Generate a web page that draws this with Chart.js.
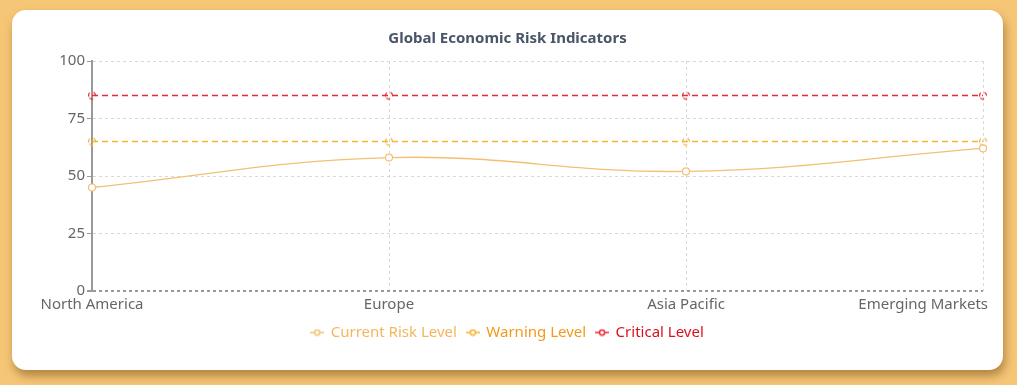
<!DOCTYPE html>
<html>
<head>
<meta charset="utf-8">
<script src="https://cdn.jsdelivr.net/npm/chart.js@4"></script>
<style>
    html, body { margin: 0; padding: 0; }
    body { width: 1017px; height: 385px; background: #F6C677; position: relative; overflow: hidden; }
    .card {
        position: absolute; left: 12px; top: 10px; width: 991px; height: 360px;
        background: #fff; border-radius: 14px;
        box-shadow: 2px 6px 10px rgba( 120, 80, 20, 0.55 );
        overflow: hidden;
    }
    canvas { display: block; }
</style>
</head>
<body>
<div class="card"><canvas id="risk" width="991" height="360"></canvas></div>
<script>
const regions = [ 'North America', 'Europe', 'Asia Pacific', 'Emerging Markets' ];
const currentRisk = [ 45, 58, 52, 62 ];
const warningLevel = [ 65, 65, 65, 65 ];
const criticalLevel = [ 85, 85, 85, 85 ];
const yTicks = [ 0, 25, 50, 75, 100 ];

const Colors = {
    current: '#F3C073',
    currentText: '#F4B55C',
    warning: '#F7B531',
    warningText: '#F29A1A',
    critical: '#EA2A33',
    criticalText: '#D9131E',
    label: '#666666',
    title: '#4A5568',
    grid: '#D9D9D9',
    axis: '#999999'
};
const FONT = "'Noto Sans', 'Open Sans', sans-serif";

// small legend icon: line with a hollow circle
function legendIcon( color ) {
    const c = document.createElement( 'canvas' );
    c.width = 14; c.height = 8;
    const x = c.getContext( '2d' );
    x.strokeStyle = color; x.lineWidth = 1.5;
    x.beginPath(); x.moveTo( 0, 4 ); x.lineTo( 14, 4 ); x.stroke();
    x.fillStyle = '#fff';
    x.beginPath(); x.arc( 7, 4, 2.6, 0, Math.PI * 2 ); x.fill(); x.stroke();
    return c;
}
// dashed hollow circle for the threshold points
function dashedPoint( color ) {
    const c = document.createElement( 'canvas' );
    c.width = 10; c.height = 10;
    const x = c.getContext( '2d' );
    x.strokeStyle = color; x.lineWidth = 1.2;
    x.setLineDash( [ 4, 4 ] );
    x.beginPath(); x.arc( 5, 5, 3.5, Math.PI * 0.9, Math.PI * 2.9 ); x.stroke();
    return c;
}

const xLabels = {
    id: 'xLabels',
    afterDraw( chart ) {
        const { ctx, scales: { x }, chartArea } = chart;
        ctx.save();
        ctx.font = '15px ' + FONT;
        ctx.fillStyle = Colors.label;
        ctx.textBaseline = 'top';
        ctx.textAlign = 'center';
        regions.forEach( ( name, i ) => {
            const w = ctx.measureText( name ).width;
            let px = x.getPixelForTick( i );
            const maxX = chart.width - 15 - w / 2;
            if ( px > maxX ) px = maxX;
            ctx.fillText( name, px, chartArea.bottom + 6 );
        } );
        ctx.restore();
    }
};

const legendColors = [ [ Colors.current, Colors.currentText ], [ Colors.warning, Colors.warningText ], [ Colors.critical, Colors.criticalText ] ];

new Chart( document.getElementById( 'risk' ).getContext( '2d' ), {
    type: 'line',
    data: {
        labels: regions,
        datasets: [ {
            label: 'Current Risk Level',
            data: currentRisk,
            borderColor: Colors.current,
            borderWidth: 1.3,
            backgroundColor: '#fff',
            pointBackgroundColor: '#fff',
            pointBorderColor: Colors.current,
            pointRadius: 3.5,
            pointBorderWidth: 1.2,
            tension: 0.4
        }, {
            label: 'Warning Level',
            data: warningLevel,
            borderColor: Colors.warning,
            borderWidth: 1.4,
            borderDash: [ 6, 4 ],
            pointStyle: dashedPoint( Colors.warning ),
            tension: 0
        }, {
            label: 'Critical Level',
            data: criticalLevel,
            borderColor: Colors.critical,
            borderWidth: 1.4,
            borderDash: [ 6, 4 ],
            pointStyle: dashedPoint( Colors.critical ),
            tension: 0
        } ]
    },
    options: {
        responsive: false,
        animation: false,
        layout: { padding: { left: 0, right: 0, top: 0, bottom: 20 } },
        scales: {
            x: {
                offset: false,
                ticks: { display: false },
                grid: { color: Colors.grid, lineWidth: 1, drawTicks: false },
                border: { display: false, dash: [ 3, 3 ] },
                afterFit( scale ) { scale.height = 24; }
            },
            y: {
                min: 0,
                max: 100,
                afterBuildTicks( scale ) { scale.ticks = yTicks.map( v => ( { value: v } ) ); },
                ticks: { color: Colors.label, font: { family: FONT, size: 15 }, padding: 2 },
                grid: {
                    color: c => c.tick && c.tick.value === 0 ? Colors.axis : Colors.grid,
                    lineWidth: c => c.tick && c.tick.value === 0 ? 2 : 1,
                    tickColor: Colors.axis,
                    tickLength: 5
                },
                border: { display: true, color: Colors.axis, width: 2, dash: [ 3, 3 ] },
                afterFit( scale ) { scale.width = 80; }
            },
            // empty right-hand spacer so the title and legend stay centred on the card
            spacer: {
                type: 'linear',
                position: 'right',
                display: true,
                ticks: { display: false },
                grid: { display: false, drawOnChartArea: false },
                border: { display: false },
                afterFit( scale ) { scale.width = 20; }
            }
        },
        plugins: {
            title: {
                display: true,
                text: 'Global Economic Risk Indicators',
                color: Colors.title,
                font: { family: FONT, size: 15, weight: 'bold' },
                padding: { top: 20, bottom: 13 }
            },
            legend: {
                position: 'bottom',
                labels: {
                    usePointStyle: true,
                    pointStyleWidth: 12,
                    boxHeight: 8,
                    padding: 10,
                    font: { family: FONT, size: 15 },
                    generateLabels( chart ) {
                        return chart.data.datasets.map( ( ds, i ) => ( {
                            text: ds.label,
                            fontColor: legendColors[ i ][ 1 ],
                            pointStyle: legendIcon( legendColors[ i ][ 0 ] ),
                            datasetIndex: i,
                            hidden: false,
                            lineWidth: 0
                        } ) );
                    }
                }
            },
            tooltip: { enabled: false }
        }
    },
    plugins: [ xLabels ]
} );
</script>
</body>
</html>
